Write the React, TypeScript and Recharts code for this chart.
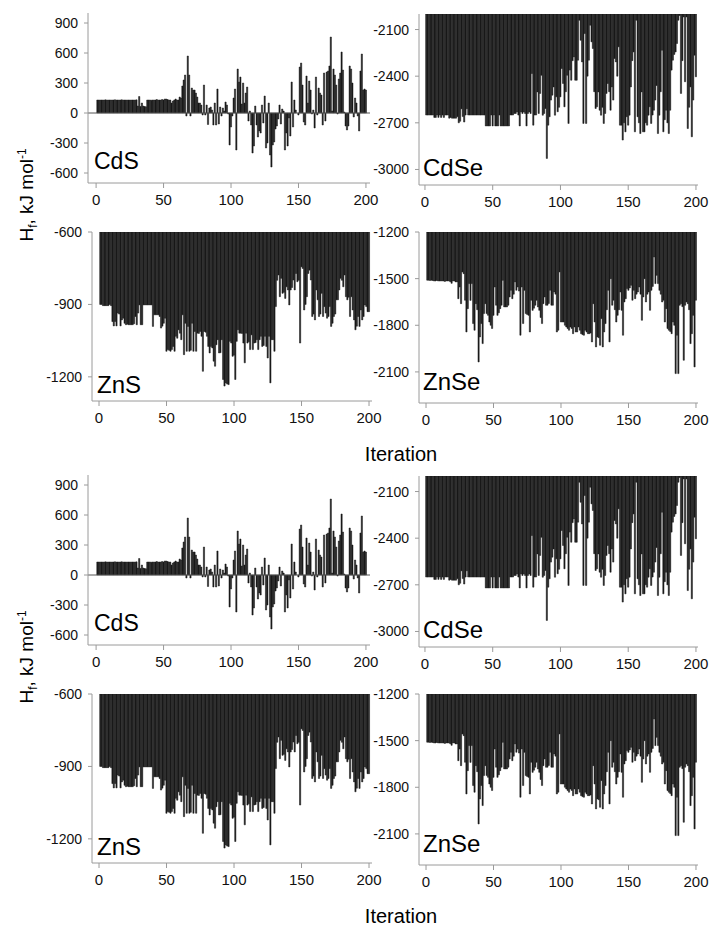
import { BarChart, Bar, XAxis, YAxis, ReferenceLine } from 'recharts'

// iteration tick labels and y tick labels per panel
const ITERATION_TICKS = [0, 50, 100, 150, 200]
const CDS_TICKS = [-600, -300, 0, 300, 600, 900]
const CDSE_TICKS = [-3000, -2700, -2400, -2100]
const ZNS_TICKS = [-1200, -900, -600]
const ZNSE_TICKS = [-2100, -1800, -1500, -1200]

// H_f (kJ/mol) for iterations 1..200
const CDS = [
  130, 130, 130, 130, 130, 130, 132, 130, 130, 130,
  130, 130, 130, 132, 130, 130, 130, 130, 132, 130,
  130, 130, 130, 130, 130, 130, 130, 130, 130, 132,
  70, 165, 65, 100, 70, 65, 62, 130, 130, 130,
  128, 130, 130, 130, 135, 130, 130, 130, 135, 130,
  140, 140, 135, 130, 130, 100, 120, 130, 140, 130,
  130, 160, 150, 270, 330, 380, -30, 570, 380, -30,
  250, 230, 230, 200, 160, 100, 100, 80, -20, 280,
  -20, 80, -115, 50, 60, 30, -120, 100, -120, 240,
  -110, 60, -30, 50, 20, 110, 80, -10, -320, -140,
  -30, 150, 240, -370, 440, 310, 360, 90, 300, 100,
  200, 260, -80, 20, -120, -400, -330, 70, -120, -240,
  -180, -200, 80, -100, 170, -350, -300, 100, -420, -540,
  -320, -290, -160, -130, -60, 80, -110, 40, 20, -370,
  -200, -330, -50, -230, 310, -140, 130, 30, 0, -20,
  460, 500, 280, -90, -120, 370, 100, 320, 230, -10,
  30, -150, 360, -20, 250, 200, 180, -120, 400, -80,
  410, 420, 470, 760, 20, 440, 380, 280, -10, 340,
  400, 610, 430, 10, -130, -170, -130, 470, 440, 300,
  -40, 150, 100, -30, -180, 420, 590, 230, 240, 230,
]

const CDSE = [
  -2650, -2650, -2650, -2650, -2650, -2650, -2665, -2665, -2650, -2665,
  -2650, -2665, -2650, -2665, -2650, -2650, -2650, -2670, -2665, -2670,
  -2670, -2670, -2670, -2660, -2700, -2690, -2610, -2660, -2695, -2650,
  -2610, -2650, -2650, -2650, -2650, -2650, -2650, -2650, -2650, -2650,
  -2650, -2650, -2650, -2650, -2720, -2720, -2720, -2720, -2650, -2720,
  -2650, -2720, -2720, -2720, -2650, -2720, -2720, -2720, -2720, -2720,
  -2720, -2720, -2650, -2650, -2650, -2640, -2640, -2630, -2650, -2720,
  -2630, -2640, -2630, -2640, -2720, -2640, -2630, -2640, -2383, -2715,
  -2650, -2650, -2501, -2640, -2511, -2394, -2651, -2640, -2608, -2929,
  -2715, -2661, -2554, -2522, -2469, -2651, -2533, -2629, -2600, -2533,
  -2351, -2447, -2597, -2500, -2394, -2704, -2361, -2426, -2300, -2276,
  -2426, -2426, -2297, -2040, -2169, -2308, -2704, -2126, -2704, -2400,
  -2297, -2072, -2179, -2222, -2500, -2608, -2597, -2501, -2619, -2651,
  -2600, -2704, -2640, -2511, -2447, -2500, -2619, -2469, -2554, -2286,
  -2308, -2400, -2211, -2715, -2715, -2811, -2700, -2758, -2661, -2715,
  -2651, -2469, -2300, -2244, -2758, -2040, -2661, -2700, -2769, -2501,
  -2758, -2758, -2700, -2715, -2651, -2597, -2704, -2650, -2619, -2554,
  -2460, -2769, -2651, -2500, -2233, -2758, -2680, -2619, -2700, -2769,
  -2619, -2361, -2297, -2260, -2244, -2190, -2040, -2010, -2511, -2300,
  -2019, -2436, -2019, -2737, -2600, -2469, -2790, -2554, -2265, -2404,
]

const ZNS = [
  -900, -900, -905, -905, -905, -905, -905, -900, -905, -971,
  -989, -971, -989, -936, -940, -989, -964, -957, -978, -984,
  -982, -984, -984, -984, -984, -980, -950, -984, -936, -902,
  -984, -984, -902, -902, -902, -902, -902, -902, -902, -991,
  -943, -943, -943, -943, -950, -998, -990, -978, -957, -1094,
  -1087, -1090, -1094, -1087, -1074, -1094, -1032, -1040, -1005, -1019,
  -1046, -943, -1108, -978, -1094, -991, -1094, -1090, -978, -1094,
  -1012, -1094, -1019, -1020, -1012, -1032, -1177, -1012, -1015, -1032,
  -1074, -1101, -1074, -1080, -1135, -1156, -1067, -1046, -1101, -1100,
  -1046, -1211, -1238, -1225, -1230, -1232, -1053, -1060, -1115, -1110,
  -1211, -1053, -1005, -1019, -1019, -1020, -1060, -1142, -1019, -1060,
  -1055, -1087, -1026, -1087, -1060, -1058, -1046, -1087, -1046, -1032,
  -1074, -1070, -1032, -1074, -1122, -1032, -1225, -1046, -1046, -1094,
  -909, -800, -778, -868, -792, -854, -850, -875, -827, -840,
  -902, -840, -830, -799, -840, -772, -806, -800, -1060, -744,
  -751, -923, -900, -868, -772, -758, -799, -950, -940, -964,
  -840, -881, -950, -940, -854, -950, -909, -936, -957, -950,
  -909, -991, -978, -950, -940, -881, -881, -840, -792, -800,
  -827, -778, -868, -881, -870, -950, -868, -923, -964, -1005,
  -990, -950, -991, -923, -964, -950, -902, -909, -930, -930,
]

const ZNSE = [
  -1510, -1510, -1512, -1510, -1512, -1515, -1515, -1512, -1515, -1515,
  -1515, -1515, -1515, -1518, -1515, -1515, -1515, -1520, -1530, -1515,
  -1515, -1521, -1521, -1629, -1554, -1661, -1457, -1468, -1639, -1843,
  -1693, -1532, -1640, -1532, -1789, -1832, -1661, -1700, -2036, -1875,
  -1789, -1918, -1725, -1661, -1725, -1736, -1779, -1800, -1821, -1736,
  -1554, -1671, -1736, -1720, -1693, -1671, -1511, -1682, -1682, -1682,
  -1671, -1618, -1575, -1629, -1600, -1521, -1575, -1554, -1580, -1864,
  -1554, -1789, -1575, -1725, -1730, -1736, -1843, -1639, -1704, -1690,
  -1671, -1639, -1682, -1704, -1750, -1789, -1661, -1618, -1671, -1671,
  -1660, -1575, -1671, -1671, -1586, -1600, -1843, -1832, -1457, -1779,
  -1779, -1779, -1800, -1811, -1821, -1832, -1811, -1820, -1854, -1811,
  -1843, -1843, -1811, -1832, -1854, -1860, -1864, -1832, -1843, -1854,
  -1854, -1850, -1907, -1661, -1779, -1939, -1875, -1880, -1929, -1757,
  -1939, -1843, -1789, -1700, -1575, -1907, -1500, -1671, -1639, -1700,
  -1779, -1736, -1700, -1586, -1704, -1864, -1650, -1629, -1564, -1575,
  -1560, -1543, -1639, -1575, -1629, -1600, -1586, -1554, -1600, -1768,
  -1618, -1500, -1650, -1600, -1586, -1704, -1575, -1550, -1361, -1532,
  -1479, -1532, -1575, -1600, -1650, -1639, -1779, -1693, -1821, -1832,
  -1840, -1854, -1779, -1800, -2111, -1864, -2111, -1671, -1661, -1680,
  -2025, -1671, -1650, -1661, -1700, -1918, -1854, -1736, -2068, -1639,
]

const FONT = '"Liberation Sans", Arial, Helvetica, sans-serif'
const AXIS = '#9a9a9a'
const BAR = '#1a1a1a'
const Y_W = 60
const M_TOP = 12
const M_RIGHT = 18
const X_H = 32
const COPY_OFFSET = 462

interface PanelProps {
  values: number[]
  plotLeft: number
  plotTop: number
  plotRight: number
  plotBottom: number
  xDomain: [number, number]
  yDomain: [number, number]
  yTicks: number[]
  zeroLine?: boolean
}

function Panel({ values, plotLeft, plotTop, plotRight, plotBottom, xDomain, yDomain, yTicks, zeroLine }: PanelProps) {
  const data = values.map((v, i) => ({ iteration: i + 1, hf: v }))
  const width = Y_W + (plotRight - plotLeft) + M_RIGHT
  const height = M_TOP + (plotBottom - plotTop) + X_H
  return (
    <div style={{ position: 'absolute', left: plotLeft - Y_W, top: plotTop - M_TOP }}>
      <BarChart width={width} height={height} data={data} margin={{ top: M_TOP, right: M_RIGHT, bottom: 0, left: 0 }}>
        <XAxis
          type="number"
          dataKey="iteration"
          domain={xDomain}
          ticks={ITERATION_TICKS}
          interval={0}
          allowDataOverflow
          height={X_H}
          stroke={AXIS}
          tickSize={5}
          tickMargin={6}
          tick={{ fill: '#111', fontSize: 15, fontFamily: FONT }}
        />
        <YAxis
          type="number"
          domain={yDomain}
          ticks={yTicks}
          interval={0}
          allowDataOverflow
          width={Y_W}
          stroke={AXIS}
          tickSize={4}
          tickMargin={6}
          tick={{ fill: '#111', fontSize: 14, fontFamily: FONT }}
        />
        <Bar dataKey="hf" fill={BAR} stroke={BAR} strokeWidth={0.5} barSize={1.4} isAnimationActive={false} />
        {zeroLine && <ReferenceLine y={0} stroke="#555" strokeWidth={1} />}
      </BarChart>
    </div>
  )
}

function Figure({ dy }: { dy: number }) {
  return (
    <>
      <Panel values={CDS} plotLeft={88} plotRight={370} plotTop={13 + dy} plotBottom={183 + dy}
        xDomain={[-6, 203]} yDomain={[-700, 1000]} yTicks={CDS_TICKS} zeroLine />
      <Panel values={CDSE} plotLeft={419} plotRight={698} plotTop={14 + dy} plotBottom={185 + dy}
        xDomain={[-4.4, 201.5]} yDomain={[-3100, -2000]} yTicks={CDSE_TICKS} />
      <Panel values={ZNS} plotLeft={92} plotRight={372} plotTop={232 + dy} plotBottom={401 + dy}
        xDomain={[-5.2, 202.2]} yDomain={[-1300, -600]} yTicks={ZNS_TICKS} />
      <Panel values={ZNSE} plotLeft={419} plotRight={698} plotTop={232 + dy} plotBottom={403 + dy}
        xDomain={[-5.2, 201.5]} yDomain={[-2300, -1200]} yTicks={ZNSE_TICKS} />
    </>
  )
}

function Labels({ dy }: { dy: number }) {
  return (
    <g fontFamily={FONT} fill="#000">
      <text x={94} y={169 + dy} fontSize={23}>CdS</text>
      <text x={423} y={176 + dy} fontSize={24}>CdSe</text>
      <text x={97} y={393 + dy} fontSize={24}>ZnS</text>
      <text x={423} y={390 + dy} fontSize={24}>ZnSe</text>
      <text x={401} y={461 + dy} fontSize={20} textAnchor="middle">Iteration</text>
      <text transform={`translate(33, ${195 + dy}) rotate(-90)`} fontSize={19} textAnchor="middle">
        H<tspan fontSize={12} dy={4}>f</tspan>
        <tspan dy={-4}>, kJ mol</tspan>
        <tspan fontSize={12} dy={-7}>-1</tspan>
      </text>
    </g>
  )
}

export default function App() {
  return (
    <div style={{ position: 'absolute', left: 0, top: 0, width: 711, height: 927, background: '#fff' }}>
      <Figure dy={0} />
      <Figure dy={COPY_OFFSET} />
      <svg width={711} height={927} style={{ position: 'absolute', left: 0, top: 0, pointerEvents: 'none' }}>
        <Labels dy={0} />
        <Labels dy={COPY_OFFSET} />
      </svg>
    </div>
  )
}
